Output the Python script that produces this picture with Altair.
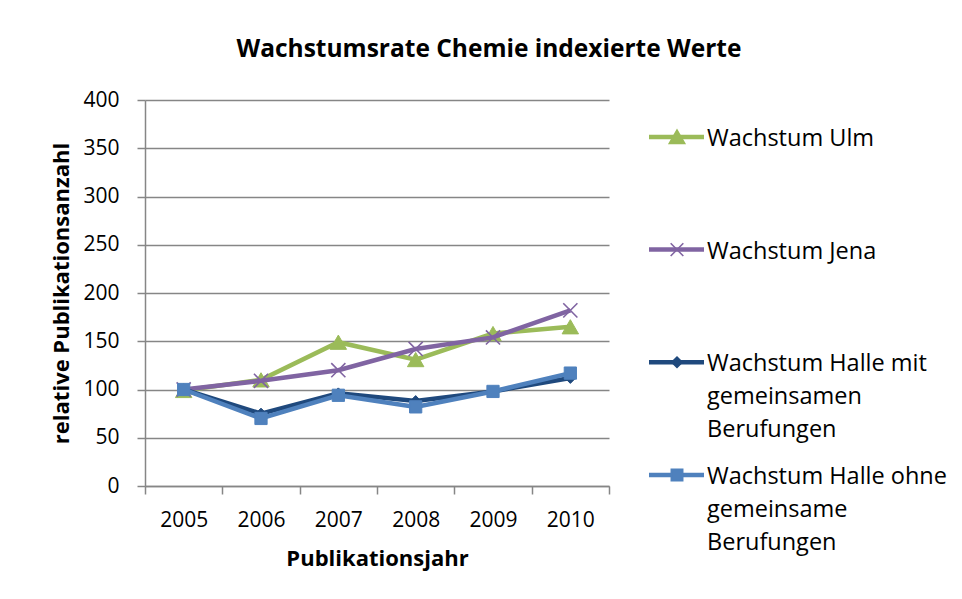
import altair as alt
import pandas as pd

years = ["2005", "2006", "2007", "2008", "2009", "2010"]
series = [
    "Wachstum Ulm",
    "Wachstum Jena",
    "Wachstum Halle mit gemeinsamen Berufungen",
    "Wachstum Halle ohne gemeinsame Berufungen",
]
ulm = [99, 110, 149, 131, 158, 165]
jena = [100, 109, 120, 142, 154, 182]
halle_mit = [100, 75, 96, 88, 98, 112]
halle_ohne = [100, 70, 94, 82, 98, 117]
values = [ulm, jena, halle_mit, halle_ohne]

legend_labels = [
    "Wachstum Ulm",
    "Wachstum Jena",
    "Wachstum Halle mit\ngemeinsamen\nBerufungen",
    "Wachstum Halle ohne\ngemeinsame\nBerufungen",
]
y_ticks = [0, 50, 100, 150, 200, 250, 300, 350, 400]

colors = ["#9BBB59", "#8064A2", "#1F497D", "#4F81BD"]
X_PATH = "M-1,-1L1,1M-1,1L1,-1"
shapes = ["triangle-up", X_PATH, "diamond", "square"]
sizes = [270, 200, 120, 150]
filled = [True, False, True, True]

FONT = "Open Sans"
NO_STROKE = alt.ViewBackground(stroke="transparent", strokeWidth=0, strokeOpacity=0)

rows = []
for s, vals in zip(series, values):
    for y, v in zip(years, vals):
        rows.append({"series": s, "year": y, "value": v})
df = pd.DataFrame(rows)

leg_df = pd.DataFrame({
    "series": series,
    "idx": list(range(len(series))),
    "label": legend_labels,
})

x_enc = alt.X(
    "year:N",
    sort=years,
    title="Publikationsjahr",
    scale=alt.Scale(type="band", paddingInner=0, paddingOuter=0),
    axis=alt.Axis(
        labelAngle=0, tickBand="extent", tickSize=8, grid=False,
        domainColor="#868686", tickColor="#868686", domainWidth=1.5, tickWidth=1.5,
        labelFont=FONT, labelFontSize=21, labelColor="#000000", labelPadding=15,
        titleFont=FONT, titleFontSize=22, titleFontWeight="bold", titleColor="#000000",
        titlePadding=18,
    ),
)
y_enc = alt.Y(
    "value:Q",
    title="relative Publikationsanzahl",
    scale=alt.Scale(domain=[0, 400], nice=False),
    axis=alt.Axis(
        values=y_ticks, tickSize=8, grid=True,
        gridColor="#868686", gridWidth=1.5,
        domainColor="#868686", tickColor="#868686", domainWidth=1.5, tickWidth=1.5,
        labelFont=FONT, labelFontSize=21, labelColor="#000000", labelPadding=18,
        titleFont=FONT, titleFontSize=22, titleFontWeight="bold", titleColor="#000000",
        titlePadding=9,
    ),
)

layers = []
for i, s in enumerate(series):
    base = alt.Chart(df).transform_filter(alt.datum.series == s)
    line = base.mark_line(color=colors[i], strokeWidth=4.5).encode(x=x_enc, y=y_enc)
    if filled[i]:
        pt = base.mark_point(
            shape=shapes[i], size=sizes[i], filled=True, fill=colors[i],
            stroke=colors[i], strokeWidth=1, opacity=1,
        ).encode(x=x_enc, y=y_enc)
    else:
        pt = base.mark_point(
            shape=shapes[i], size=sizes[i], filled=False, stroke=colors[i],
            strokeWidth=1.6, opacity=1,
        ).encode(x=x_enc, y=y_enc)
    layers += [line, pt]

plot = alt.layer(*layers).properties(width=464, height=386, view=NO_STROKE)

ly = alt.Y(
    "idx:Q",
    scale=alt.Scale(domain=[-0.328, 3.098], reverse=True, nice=False, zero=False),
    axis=None,
)
leg_base = alt.Chart(leg_df)
leg_layers = []
for i, s in enumerate(series):
    b = leg_base.transform_filter(alt.datum.series == s)
    leg_layers.append(
        b.mark_rule(color=colors[i], strokeWidth=4.5).encode(
            x=alt.value(20), x2=alt.value(75), y=ly
        )
    )
    if filled[i]:
        leg_layers.append(
            b.mark_point(shape=shapes[i], size=sizes[i] * 0.8, filled=True,
                         fill=colors[i], stroke=colors[i], opacity=1).encode(
                x=alt.value(48), y=ly)
        )
    else:
        leg_layers.append(
            b.mark_point(shape=shapes[i], size=sizes[i] * 0.8, filled=False,
                         stroke=colors[i], strokeWidth=1.6, opacity=1).encode(
                x=alt.value(48), y=ly)
        )
leg_layers.append(
    leg_base.mark_text(
        align="left", baseline="top", dy=-10, font=FONT, fontSize=23.5,
        lineBreak="\n", lineHeight=33, color="#000000",
    ).encode(x=alt.value(78), y=ly, text="label:N")
)
legend = alt.layer(*leg_layers).properties(width=300, height=386, view=NO_STROKE)

chart = (
    alt.hconcat(plot, legend, spacing=19)
    .properties(
        title=alt.TitleParams(
            "Wachstumsrate Chemie indexierte Werte",
            font=FONT, fontSize=24.5, fontWeight="bold", color="#000000",
            anchor="middle", offset=27, dx=-10,
        ),
        padding={"left": 42, "top": 28, "right": 0, "bottom": 5},
    )
    .configure_view(strokeWidth=0, stroke="transparent")
    .configure(background="#ffffff")
)

chart.save("out.html", embed_options={"renderer": "svg", "actions": False})
